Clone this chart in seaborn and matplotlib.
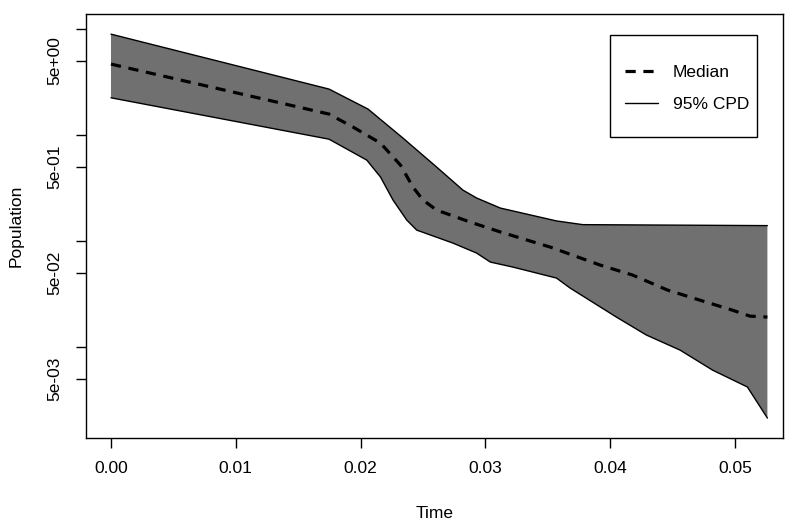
import numpy as np
import pandas as pd
import matplotlib
matplotlib.use("Agg")
import matplotlib.pyplot as plt
import seaborn as sns
from matplotlib.lines import Line2D
from matplotlib.patches import Rectangle
from matplotlib.ticker import FixedLocator, FixedFormatter, NullLocator

# ---- data ----
t_median = [0.0, 0.01747, 0.0194, 0.0216, 0.0232, 0.0242, 0.0250, 0.0261, 0.0288,
            0.0312, 0.0352, 0.0392, 0.0418, 0.0446, 0.0472, 0.0498, 0.0512, 0.0526]
median = [4.68, 1.58, 1.19, 0.84, 0.521, 0.323, 0.244, 0.196, 0.151,
          0.122, 0.0878, 0.0594, 0.0478, 0.0345, 0.0277, 0.0223, 0.0196, 0.0192]

t_upper = [0.0, 0.01747, 0.0206, 0.0234, 0.0261, 0.0282, 0.0293, 0.0312, 0.0357,
           0.0378, 0.0526]
upper = [8.97, 2.72, 1.76, 0.937, 0.499, 0.303, 0.255, 0.205, 0.155, 0.143, 0.140]

t_lower = [0.0, 0.01747, 0.0205, 0.0216, 0.0226, 0.0237, 0.0245, 0.0274, 0.0293,
           0.0304, 0.0322, 0.0357, 0.0368, 0.0405, 0.0429, 0.0456, 0.0482, 0.0510, 0.0526]
lower = [2.25, 0.916, 0.581, 0.402, 0.244, 0.158, 0.127, 0.0958, 0.0771,
         0.0634, 0.0569, 0.0448, 0.0360, 0.0192, 0.0130, 0.00937, 0.00607, 0.00420, 0.00214]

x_ticks = [0.00, 0.01, 0.02, 0.03, 0.04, 0.05]
x_tick_labels = ["0.00", "0.01", "0.02", "0.03", "0.04", "0.05"]
y_ticks = [10, 5, 1, 0.5, 0.1, 0.05, 0.01, 0.005]
y_tick_labels = ["", "5e+00", "", "5e-01", "", "5e-02", "", "5e-03"]
legend_labels = ["Median", "95% CPD"]

# ---- plot ----
sns.set_style("white")
plt.rcParams["font.family"] = ["Liberation Sans", "DejaVu Sans"]
plt.rcParams["text.color"] = "black"
plt.rcParams["axes.labelcolor"] = "black"
plt.rcParams["xtick.color"] = "black"
plt.rcParams["ytick.color"] = "black"

fig = plt.figure(figsize=(7.98, 5.22), dpi=100)
ax = fig.add_axes([0.1078, 0.1609, 0.8734, 0.8123])

# shaded band
ax.fill(np.concatenate([t_upper, t_lower[::-1]]),
        np.concatenate([upper, lower[::-1]]),
        color="#707070", lw=0, zorder=1)

df_up = pd.DataFrame({"t": t_upper, "v": upper})
df_lo = pd.DataFrame({"t": t_lower, "v": lower})
df_med = pd.DataFrame({"t": t_median, "v": median})
dash = (0, (3.2, 2.4))
sns.lineplot(data=df_up, x="t", y="v", ax=ax, color="black", lw=1.0, sort=False,
             estimator=None, zorder=2)
sns.lineplot(data=df_lo, x="t", y="v", ax=ax, color="black", lw=1.0, sort=False,
             estimator=None, zorder=2)
sns.lineplot(data=df_med, x="t", y="v", ax=ax, color="black", lw=2.3, sort=False,
             estimator=None, zorder=3, linestyle=dash)

ax.set_yscale("log")
ax.set_xlim(-0.0020, 0.05385)
ax.set_ylim(0.001387, 13.9)

ax.xaxis.set_major_locator(FixedLocator(x_ticks))
ax.xaxis.set_major_formatter(FixedFormatter(x_tick_labels))
ax.yaxis.set_major_locator(FixedLocator(y_ticks))
ax.yaxis.set_major_formatter(FixedFormatter(y_tick_labels))
ax.yaxis.set_minor_locator(NullLocator())

ax.tick_params(axis="both", which="major", direction="out", length=7, width=1,
               color="black", labelsize=12.5, labelcolor="black", bottom=True, left=True)
ax.tick_params(axis="x", pad=9.5)
ax.tick_params(axis="y", pad=10)
for lab in ax.get_yticklabels():
    lab.set_rotation(90)
    lab.set_va("center")

for s in ax.spines.values():
    s.set_color("black")
    s.set_linewidth(1.0)
    s.set_visible(True)

ax.set_xlabel("Time", fontsize=12.5, labelpad=21.5, color="black")
ax.set_ylabel("Population", fontsize=12.5, labelpad=17, color="black")

# legend box (frame drawn separately to match R's padding)
ax.add_patch(Rectangle((0.7518, 0.7099), 0.9627 - 0.7518, 0.9505 - 0.7099,
                       transform=ax.transAxes, fill=True, facecolor="white",
                       edgecolor="black", lw=1.0, zorder=5))
handles = [Line2D([], [], color="black", lw=2.3, linestyle=dash),
           Line2D([], [], color="black", lw=1.0)]
leg = ax.legend(handles, legend_labels, loc="upper left",
                bbox_to_anchor=(0.7733, 0.880), borderaxespad=0, borderpad=0,
                fontsize=12.5, frameon=False, handlelength=1.9, handletextpad=0.86,
                labelspacing=0.97, labelcolor="black")
leg.set_zorder(6)

fig.savefig("out.png", dpi=100)
